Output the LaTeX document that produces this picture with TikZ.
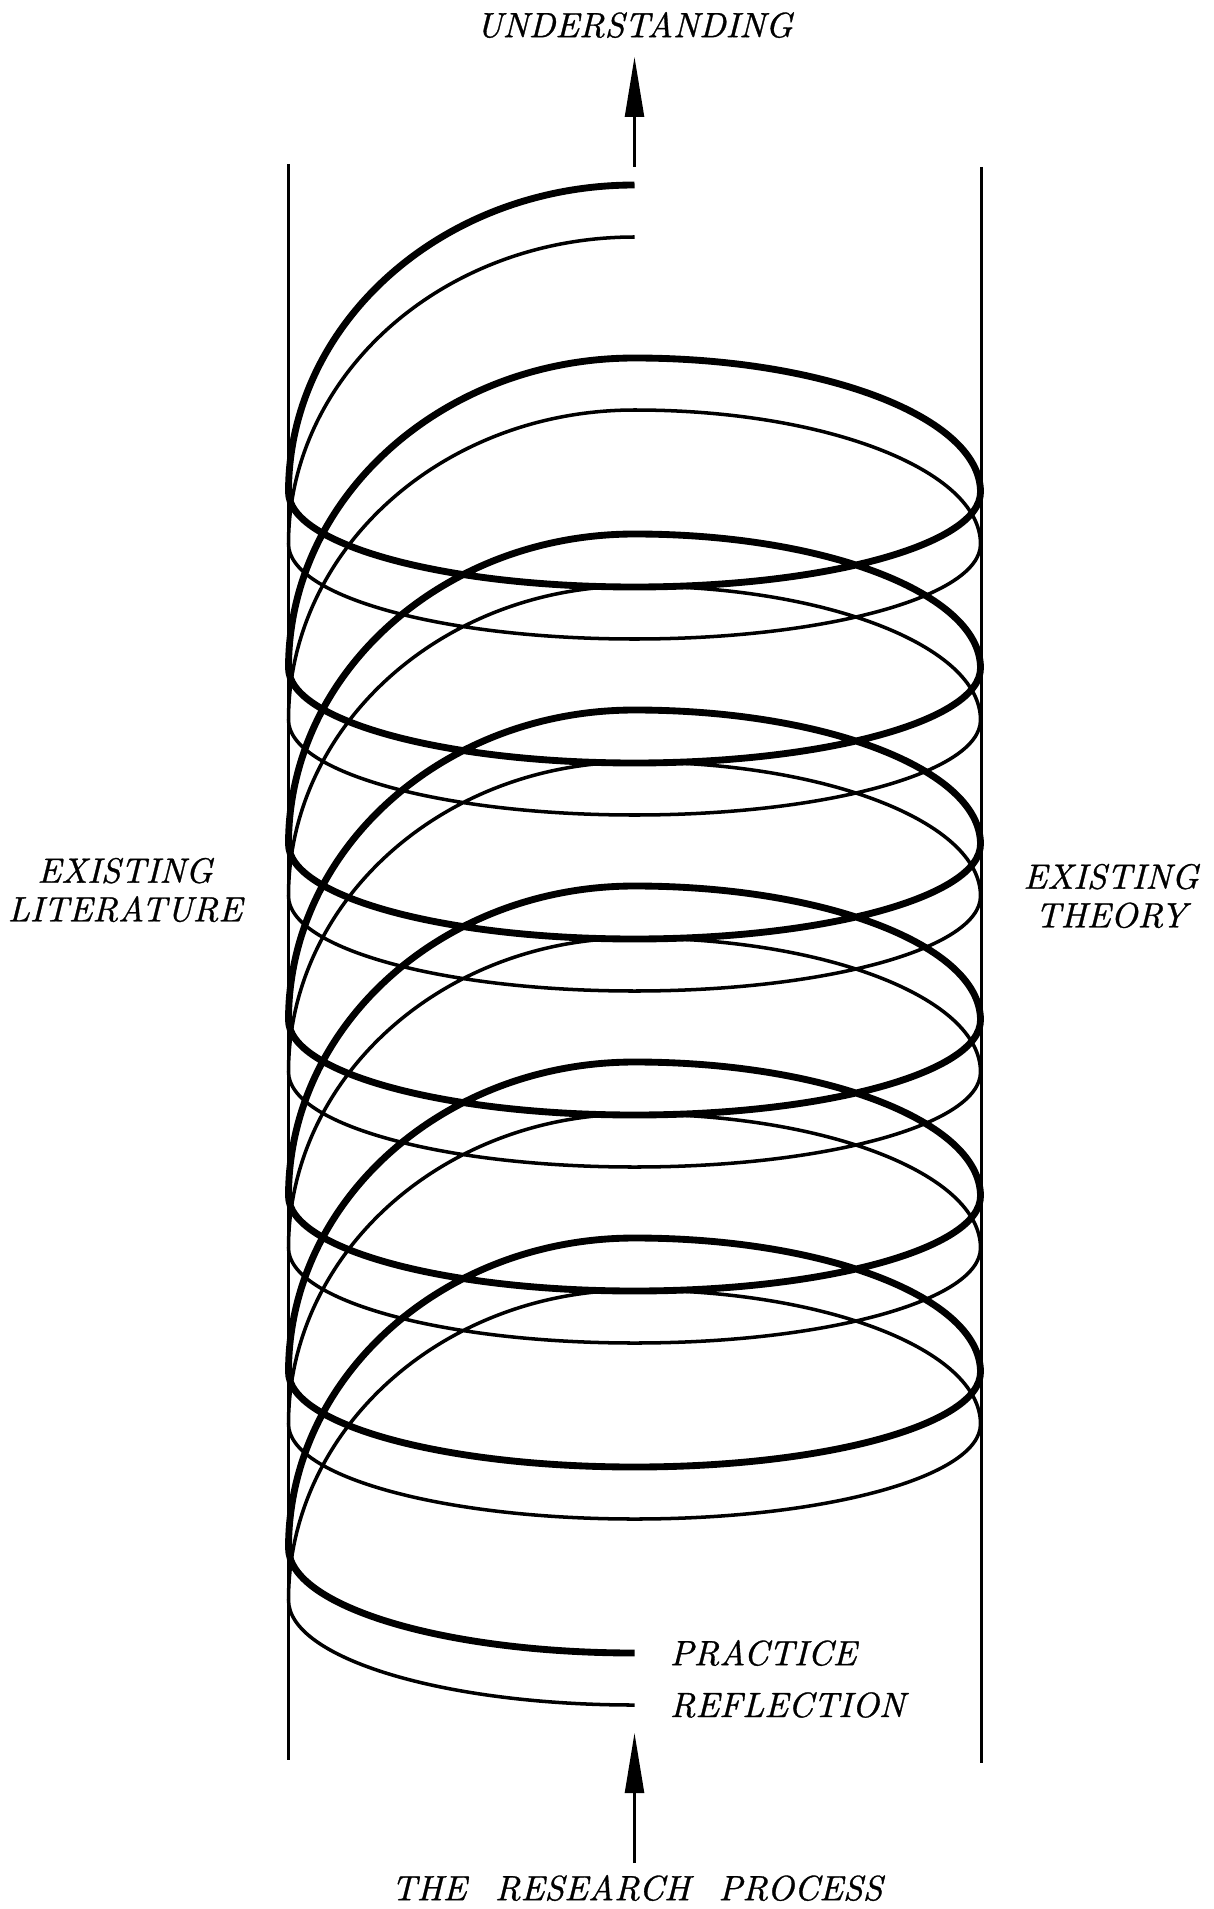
\documentclass[tikz,border=0pt]{standalone}
\usepackage{fontspec}
\newfontfamily\lblfont{lmroman10-italic.otf}[FakeBold=0.9]
\usetikzlibrary{positioning,arrows.meta}
\tikzset{wall/.style={line width=1.4pt}}
\tikzset{thickcoil/.style={line width=3.9pt}}
\tikzset{thincoil/.style={line width=2pt}}
\tikzset{lbl/.style={font=\fontsize{20}{22}\selectfont\lblfont,align=center,inner sep=0pt}}
\tikzset{>={Triangle[length=1.2cm,width=0.38cm]}}
\begin{document}
\begin{tikzpicture}[x=0.02cm,y=-0.02cm]
		\useasboundingbox (0,0) rectangle (1213,1909);
		\coordinate (lt) at (288.6,164);
		\coordinate (lb) at (288.6,1760);
		\coordinate (rt) at (981.6,167);
		\coordinate (rb) at (981.6,1763);
		\draw[wall] (lt) -- (lb);
		\draw[wall] (rt) -- (rb);

		% the two coils, bottom end first
		\coordinate (pstart) at (634.5,1653);
		\coordinate (rstart) at (634.5,1705);
		\foreach \s/\e in {pstart/thickcoil,rstart/thincoil}{
			\draw[\e] (\s) arc[start angle=90,end angle=180,x radius=346,y radius=105]
				\foreach \k in {1,...,6}{
					arc[start angle=180,end angle=270,x radius=346,y radius=310]
					arc[start angle=270,end angle=360,x radius=346,y radius=134]
					arc[start angle=0,end angle=180,x radius=346,y radius=95]
				}
				arc[start angle=180,end angle=270,x radius=346,y radius=307];
		}

		\coordinate (ufoot) at (634.5,167);
		\coordinate (utip) at (634.5,57);
		\coordinate (bfoot) at (634.5,1863);
		\coordinate (btip) at (634.5,1733);
		\draw[wall,->] (ufoot) -- (utip);
		\draw[wall,->] (bfoot) -- (btip);

		\node[lbl] (understanding) at (634.5,25) {UNDERSTANDING};
		\node[lbl] (process) at (637,1888) {THE\hspace{0.45em} RESEARCH\hspace{0.45em} PROCESS};
		\node[lbl] (literature) at (125,890) {EXISTING\\LITERATURE};
		\node[lbl] (theory) at (1111,896) {EXISTING\\THEORY};
		\node[lbl,right=0.7cm of pstart] (practice) {PRACTICE};
		\node[lbl,right=0.7cm of rstart] (reflection) {REFLECTION};
\end{tikzpicture}
\end{document}
